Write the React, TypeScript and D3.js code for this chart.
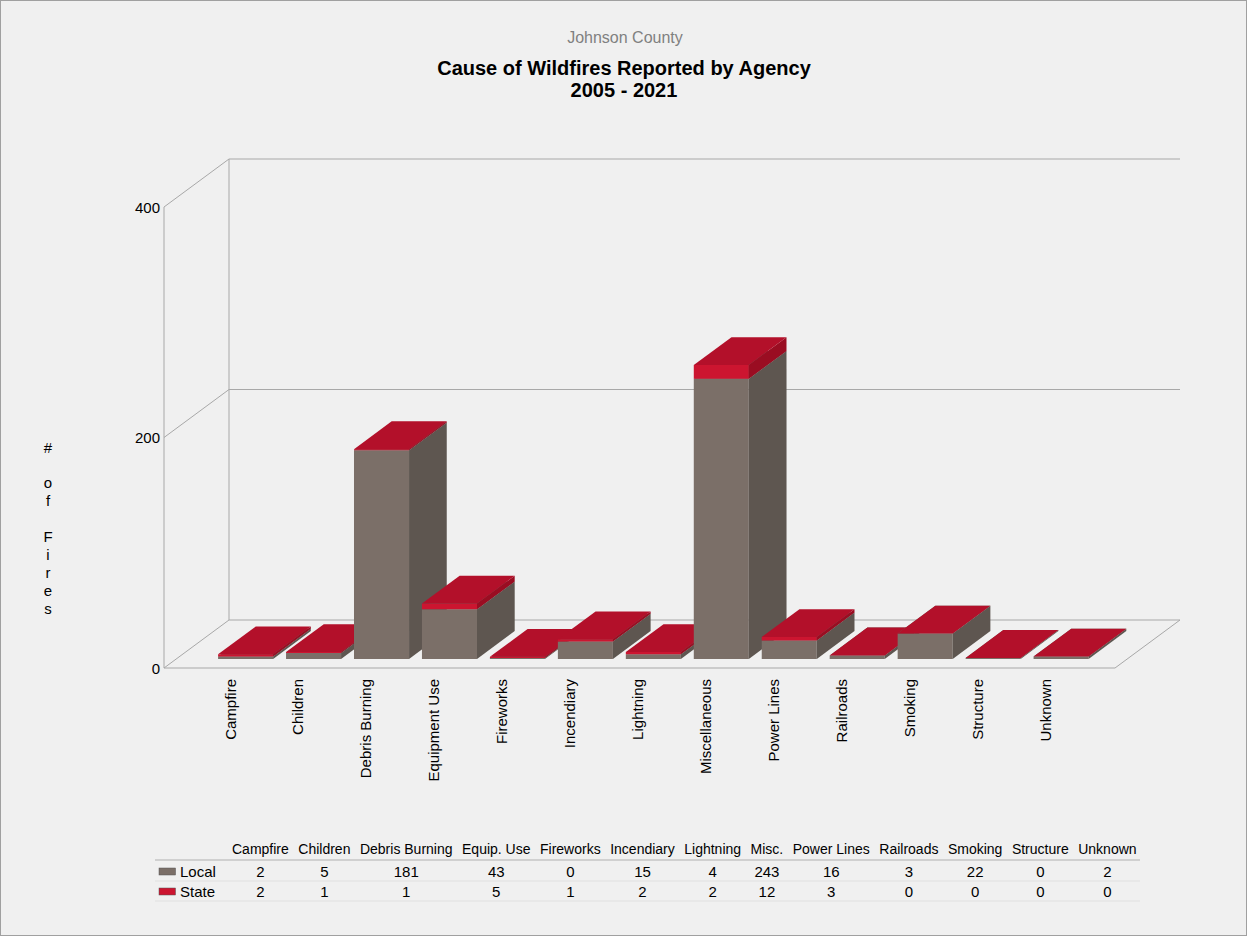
import React from 'react';
import * as d3 from 'd3';

const categories = ['Campfire', 'Children', 'Debris Burning', 'Equipment Use', 'Fireworks', 'Incendiary', 'Lightning', 'Miscellaneous', 'Power Lines', 'Railroads', 'Smoking', 'Structure', 'Unknown'];
const tableHeaders = ['Campfire', 'Children', 'Debris Burning', 'Equip. Use', 'Fireworks', 'Incendiary', 'Lightning', 'Misc.', 'Power Lines', 'Railroads', 'Smoking', 'Structure', 'Unknown'];
const localFires = [2, 5, 181, 43, 0, 15, 4, 243, 16, 3, 22, 0, 2];
const stateFires = [2, 1, 1, 5, 1, 2, 2, 12, 3, 0, 0, 0, 0];
const yTicks = [0, 200, 400];
const axisTitle = ['#', '', 'o', 'f', '', 'F', 'i', 'r', 'e', 's'];

const W = 1247;
const H = 936;
const FONT = "Arial, 'Liberation Sans', sans-serif";

// 3d box
const plotLeft = 164;
const plotRight = 1115;
const floorY = 668;
const topY = 207;
const depthX = 65;
const depthY = 48;
const barZ0 = 0.19;
const barZ1 = 0.77;

const colors = {
  local: { front: '#7b6f68', side: '#5e5650', top: '#6c625c' },
  state: { front: '#cc1530', side: '#9a0d22', top: '#b3102a' },
};

const y = d3.scaleLinear().domain([0, 400]).range([floorY, topY]);
const x = d3.scaleBand<string>()
  .domain(categories)
  .range([plotLeft + 3, plotRight])
  .paddingInner(0.19)
  .paddingOuter(0.57);

const P = (px: number, v: number, z: number): [number, number] => [px + z * depthX, y(v) - z * depthY];
const poly = (pts: [number, number][]) => d3.line()(pts) + 'Z';

function Segment({ x0, x1, v0, v1, c }: any) {
  const front = [P(x0, v0, barZ0), P(x1, v0, barZ0), P(x1, v1, barZ0), P(x0, v1, barZ0)] as [number, number][];
  const side = [P(x1, v0, barZ0), P(x1, v0, barZ1), P(x1, v1, barZ1), P(x1, v1, barZ0)] as [number, number][];
  const top = [P(x0, v1, barZ0), P(x1, v1, barZ0), P(x1, v1, barZ1), P(x0, v1, barZ1)] as [number, number][];
  return (
    <g>
      <path d={poly(front)} fill={c.front} />
      <path d={poly(side)} fill={c.side} />
      <path d={poly(top)} fill={c.top} />
    </g>
  );
}

let ctx: CanvasRenderingContext2D | null = null;
function textWidth(s: string, font: string) {
  if (!ctx) ctx = document.createElement('canvas').getContext('2d');
  ctx!.font = font;
  return ctx!.measureText(s).width;
}

function DataTable() {
  const headerFont = `14px ${FONT}`;
  let cur = 232;
  const cols = tableHeaders.map(h => {
    const w = textWidth(h, headerFont);
    const c = cur + w / 2;
    cur += w + 9.5;
    return c;
  });
  const rows = [
    { name: 'Local', values: localFires, color: colors.local.front, y: 871.5 },
    { name: 'State', values: stateFires, color: colors.state.front, y: 891.5 },
  ];
  return (
    <g fontFamily={FONT}>
      {tableHeaders.map((h, i) => (
        <text key={h} x={cols[i]} y={849} textAnchor="middle" dominantBaseline="central" fontSize={14} fill="#000">{h}</text>
      ))}
      {[860, 881, 901].map((ly, i) => (
        <line key={ly} x1={155} x2={1140} y1={ly} y2={ly} stroke={i === 0 ? '#d0d0d0' : '#e0e0e0'} strokeWidth={i === 0 ? 2 : 1} />
      ))}
      {rows.map(r => (
        <g key={r.name}>
          <rect x={159} y={r.y - 3.5} width={16.5} height={7} fill={r.color} stroke="#555" strokeWidth={0.5} />
          <text x={180} y={r.y} dominantBaseline="central" fontSize={15}>{r.name}</text>
          {r.values.map((v, i) => (
            <text key={i} x={cols[i]} y={r.y} textAnchor="middle" dominantBaseline="central" fontSize={15}>{v}</text>
          ))}
        </g>
      ))}
    </g>
  );
}

export default function App() {
  const grid = '#a8a8a8';
  const backLeft = plotLeft + depthX;
  const backRight = plotRight + depthX;
  return (
    <svg width={W} height={H} style={{ position: 'absolute', left: 0, top: 0 }} fontFamily={FONT}>
      <rect x={0.5} y={0.5} width={W - 1} height={H - 1} fill="#f0f0f0" stroke="#a0a0a0" />

      <text x={625} y={37} textAnchor="middle" dominantBaseline="central" fontSize={16} fill="#808080">Johnson County</text>
      <text x={624} y={68} textAnchor="middle" dominantBaseline="central" fontSize={20} fontWeight="bold">Cause of Wildfires Reported by Agency</text>
      <text x={624} y={90} textAnchor="middle" dominantBaseline="central" fontSize={20} fontWeight="bold">2005 - 2021</text>

      {/* walls and grid */}
      <g stroke={grid} fill="none" strokeWidth={1}>
        <line x1={plotLeft} x2={plotLeft} y1={y(0)} y2={y(400)} />
        <line x1={backLeft} x2={backLeft} y1={y(0) - depthY} y2={y(400) - depthY} />
        {yTicks.map(t => (
          <g key={t}>
            <line x1={plotLeft} y1={y(t)} x2={backLeft} y2={y(t) - depthY} />
            <line x1={backLeft} y1={y(t) - depthY} x2={backRight} y2={y(t) - depthY} />
          </g>
        ))}
        <line x1={plotLeft} x2={plotRight} y1={y(0)} y2={y(0)} />
        <line x1={plotRight} y1={y(0)} x2={backRight} y2={y(0) - depthY} />
      </g>
      {yTicks.map(t => (
        <text key={t} x={plotLeft - 4} y={y(t)} textAnchor="end" dominantBaseline="central" fontSize={15}>{t}</text>
      ))}

      {axisTitle.map((ch, i) => (
        <text key={i} x={48} y={447 + i * 17.9} textAnchor="middle" dominantBaseline="central" fontSize={15}>{ch}</text>
      ))}

      {/* bars */}
      {categories.map((c, i) => {
        const x0 = x(c)!;
        const x1 = x0 + x.bandwidth();
        const l = Math.max(localFires[i], 0.8);
        const s = stateFires[i];
        return (
          <g key={c}>
            <Segment x0={x0} x1={x1} v0={0} v1={l} c={colors.local} />
            <Segment x0={x0} x1={x1} v0={l} v1={l + s} c={colors.state} />
          </g>
        );
      })}

      {categories.map(c => {
        const cx = x(c)! + x.bandwidth() / 2 - 3;
        return (
          <text key={c} transform={`translate(${cx},679) rotate(-90)`} textAnchor="end" dy="0.35em" fontSize={15}>{c}</text>
        );
      })}

      <DataTable />
    </svg>
  );
}
